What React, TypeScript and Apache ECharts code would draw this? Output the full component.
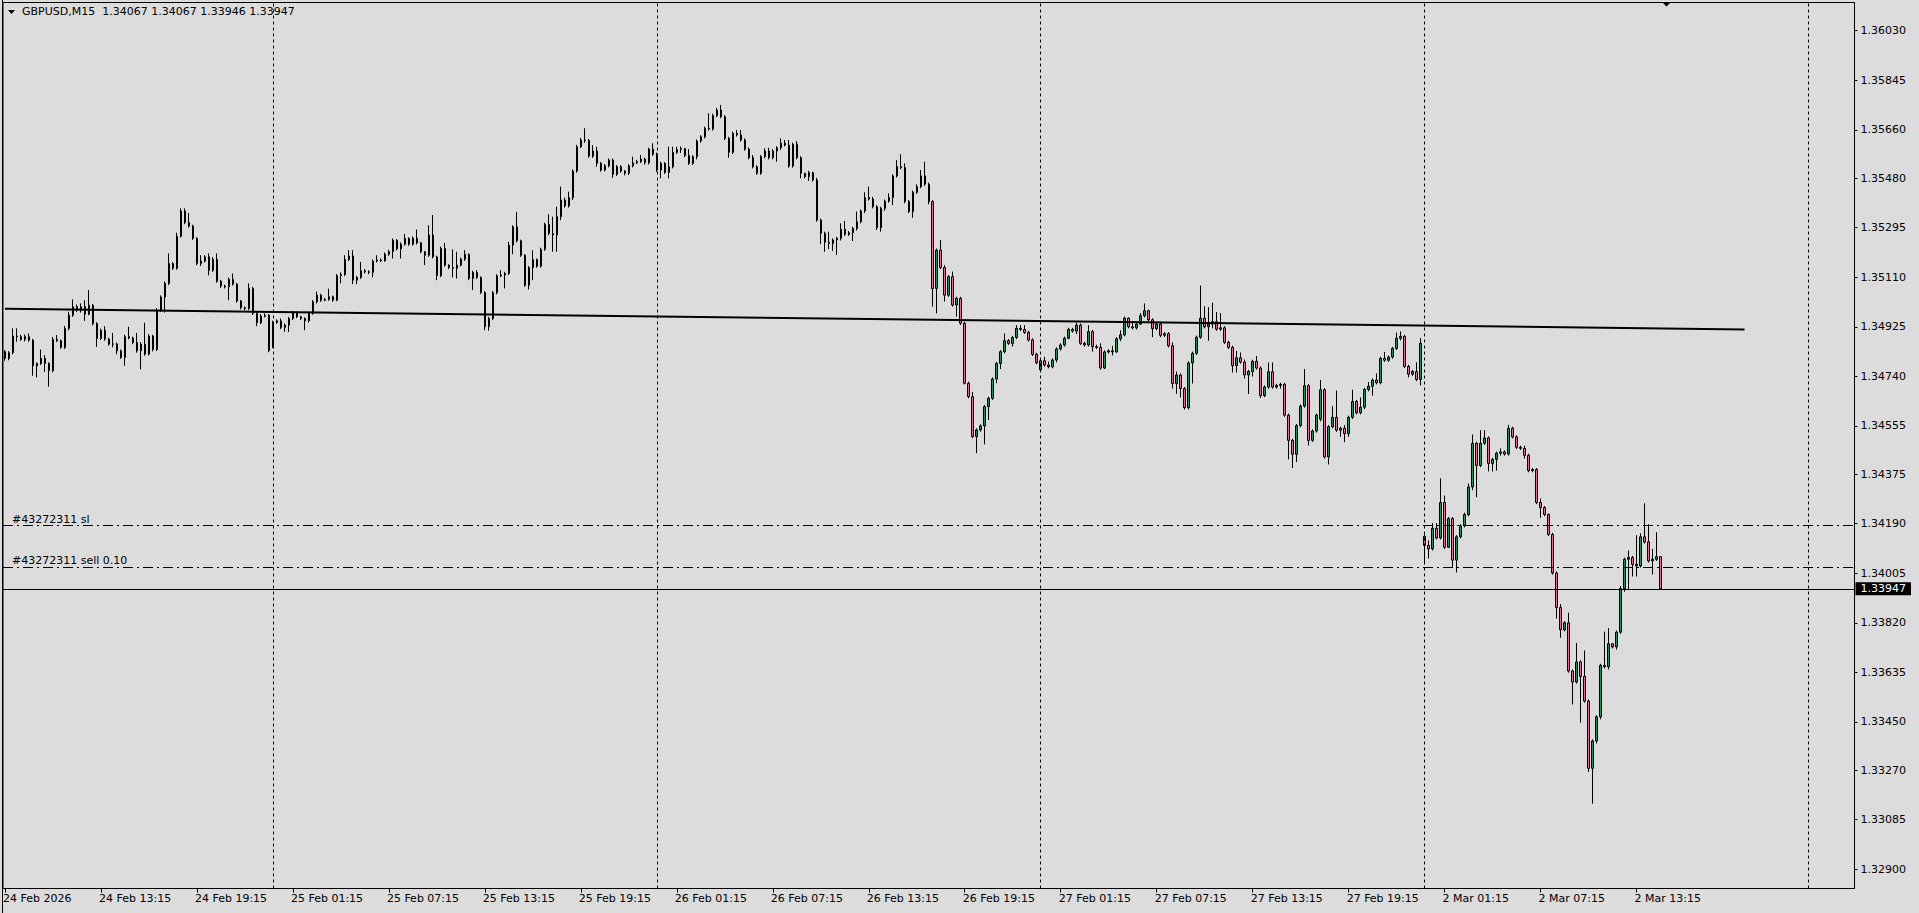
import React, { useEffect, useRef } from 'react';
import * as echarts from 'echarts';

// Candles as [open, close, low, high] in points: price = 1.3 + pts / 100000
const D24: number[][] = [
  [4832,4807,4798,4838],[4807,4828,4800,4834],[4828,4890,4822,4919],[4890,4888,4869,4919],[4888,4878,4872,4895],
  [4878,4888,4870,4896],[4888,4875,4869,4900],[4875,4779,4742,4880],[4779,4788,4736,4792],[4788,4807,4782,4840],
  [4807,4788,4757,4819],[4788,4761,4701,4792],[4761,4878,4755,4887],[4878,4873,4868,4894],[4873,4848,4843,4877],
  [4848,4919,4842,4928],[4919,4968,4912,4981],[4968,5000,4962,5027],[5000,4987,4980,5008],[4987,5000,4978,5012],
  [5000,4972,4947,5024],[4972,5005,4968,5062],[5005,4937,4930,5010],[4937,4881,4850,4942],[4881,4912,4876,4918],
  [4912,4879,4873,4927],[4879,4860,4855,4884],[4860,4861,4848,4902],[4861,4835,4822,4866],[4835,4810,4805,4840],
  [4810,4888,4779,4895],[4888,4883,4878,4925],[4883,4866,4860,4888],[4866,4835,4828,4902],[4835,4860,4766,4868],
  [4860,4823,4817,4940],[4823,4890,4818,4897],[4890,4840,4833,4895],[4840,4987,4835,4995],[4987,5036,4980,5042],
  [5036,5087,4978,5094],[5087,5161,5080,5199],[5161,5143,5137,5166],[5143,5263,5138,5276],[5263,5357,5258,5367],
  [5357,5314,5308,5367],[5314,5301,5295,5350],[5301,5255,5249,5306],[5255,5161,5155,5259],[5161,5170,5152,5192],
  [5170,5186,5165,5192],[5186,5136,5117,5199],[5136,5177,5130,5185],[5177,5095,5089,5199],[5095,5077,5070,5100],
  [5077,5074,5068,5082],[5074,5102,5024,5108],[5102,5084,5079,5124],[5084,5021,5015,5089],[5021,4996,4990,5025],
  [4996,4993,4986,5001],[4993,5068,4988,5087],[5068,4975,4969,5074],[4975,4940,4927,4980],[4940,4965,4935,4972],
  [4965,4968,4960,4975],[4968,4836,4830,4972],
];
const D25: number[][] = [
  [4850,4941,4845,4948],[4941,4947,4936,4953],[4947,4922,4916,4956],[4922,4931,4906,4937],[4931,4956,4906,4962],
  [4956,4978,4950,4984],[4978,4962,4957,4982],[4962,4956,4950,4966],[4956,4947,4912,4960],[4947,4975,4941,4981],
  [4975,5018,4970,5025],[5018,5043,5012,5056],[5043,5024,5018,5048],[5024,5027,5020,5033],[5027,5037,5022,5067],
  [5037,5024,5018,5041],[5024,5116,5020,5122],[5116,5120,5087,5128],[5120,5176,5114,5192],[5176,5189,5170,5211],
  [5189,5099,5084,5211],[5099,5109,5084,5115],[5109,5134,5103,5167],[5134,5130,5124,5140],[5130,5128,5121,5136],
  [5128,5170,5109,5176],[5170,5174,5165,5192],[5174,5171,5167,5180],[5171,5196,5168,5202],[5196,5205,5190,5212],
  [5205,5248,5180,5255],[5248,5216,5210,5252],[5216,5233,5180,5240],[5233,5255,5228,5271],[5255,5233,5227,5259],
  [5233,5255,5228,5262],[5255,5238,5232,5288],[5238,5205,5199,5242],[5205,5192,5155,5208],[5192,5267,5186,5304],
  [5267,5186,5180,5342],[5186,5116,5099,5190],[5116,5217,5110,5224],[5217,5155,5149,5238],[5155,5146,5140,5158],
  [5146,5143,5109,5214],[5143,5155,5105,5205],[5155,5177,5150,5183],[5177,5195,5171,5211],[5195,5105,5099,5199],
  [5105,5128,5062,5134],[5128,5109,5103,5136],[5109,5053,5047,5113],[5053,4925,4912,5058],[4925,4956,4910,4962],
  [4956,5052,4950,5058],[5052,5115,5046,5121],[5115,5118,5110,5136],[5118,5124,5068,5130],[5124,5230,5118,5242],
  [5230,5298,5196,5304],[5298,5246,5240,5354],[5246,5192,5186,5250],[5192,5080,5074,5196],[5080,5146,5064,5152],
  [5146,5176,5099,5211],[5176,5151,5145,5180],[5151,5214,5146,5220],[5214,5307,5208,5313],[5307,5273,5267,5345],
  [5273,5268,5205,5336],[5268,5336,5205,5373],[5336,5398,5323,5448],[5398,5376,5370,5407],[5376,5407,5370,5429],
  [5407,5506,5398,5512],[5506,5597,5500,5604],[5597,5622,5592,5630],[5622,5620,5612,5666],[5620,5562,5556,5626],
  [5562,5581,5555,5603],[5581,5535,5523,5597],[5535,5510,5504,5540],[5510,5526,5505,5532],[5526,5547,5520,5553],
  [5547,5494,5481,5553],[5494,5523,5488,5529],[5523,5506,5500,5528],[5506,5498,5490,5510],[5498,5526,5492,5532],
  [5526,5537,5520,5560],[5537,5541,5532,5548],[5541,5551,5536,5566],[5551,5537,5530,5556],[5537,5588,5531,5593],
  [5588,5569,5563,5610],
];
const D26: number[][] = [
  [5569,5510,5503,5575],[5510,5535,5479,5541],[5535,5501,5495,5540],[5501,5522,5479,5597],[5522,5576,5516,5597],
  [5576,5587,5570,5597],[5587,5590,5574,5598],[5590,5564,5558,5593],[5564,5535,5529,5588],[5535,5560,5529,5566],
  [5560,5618,5550,5624],[5618,5634,5612,5640],[5634,5666,5628,5672],[5666,5663,5657,5722],[5663,5713,5657,5720],
  [5713,5734,5707,5742],[5734,5709,5703,5753],[5709,5628,5622,5715],[5628,5576,5556,5634],[5576,5647,5570,5653],
  [5647,5641,5635,5659],[5641,5622,5616,5659],[5622,5588,5582,5628],[5588,5556,5550,5594],[5556,5522,5516,5566],
  [5522,5498,5492,5528],[5498,5560,5492,5566],[5560,5581,5554,5591],[5581,5556,5550,5593],[5556,5581,5550,5588],
  [5581,5593,5541,5599],[5593,5610,5585,5628],[5610,5603,5598,5622],[5603,5525,5519,5622],[5525,5606,5519,5612],
  [5606,5556,5550,5618],[5556,5498,5479,5562],[5498,5485,5479,5500],[5485,5500,5469,5507],[5500,5473,5467,5504],
  [5473,5323,5317,5481],[5323,5274,5233,5329],[5274,5240,5205,5280],[5240,5236,5215,5280],[5236,5249,5208,5255],
  [5249,5255,5193,5261],[5255,5289,5247,5311],[5289,5270,5264,5320],[5270,5276,5264,5282],[5276,5292,5245,5298],
  [5292,5317,5284,5355],[5317,5357,5311,5363],[5357,5407,5349,5427],[5407,5402,5396,5448],[5402,5373,5367,5410],
  [5373,5295,5286,5379],[5295,5367,5280,5373],[5367,5394,5358,5400],[5394,5407,5388,5423],[5407,5488,5379,5494],
  [5488,5523,5482,5547],[5523,5519,5513,5569],[5519,5392,5386,5535],[5392,5355,5349,5398],[5355,5427,5332,5433],
  [5427,5448,5421,5457],[5448,5488,5442,5510],[5488,5457,5451,5541],[5457,5392,5382,5463],[5392,5068,5000,5398],
  [5068,5211,4975,5217],[5211,5146,5140,5249],[5146,5043,5019,5155],[5043,5112,5037,5118],[5112,5006,5000,5131],
  [5006,5031,4963,5037],[5031,4938,4932,5037],[4938,4714,4710,4944],[4714,4664,4658,4720],[4664,4515,4509,4682],
  [4515,4540,4453,4546],[4540,4555,4533,4561],[4555,4627,4486,4633],[4627,4658,4577,4664],[4658,4730,4652,4736],
  [4730,4788,4714,4794],[4788,4832,4767,4838],[4832,4873,4826,4900],[4873,4863,4857,4879],[4863,4885,4851,4891],
  [4885,4919,4879,4931],[4919,4915,4909,4931],[4915,4904,4898,4931],[4904,4876,4870,4910],[4876,4822,4816,4882],
  [4822,4791,4785,4828],
];
const D27: number[][] = [
  [4764,4798,4758,4804],[4798,4782,4776,4813],[4782,4776,4770,4795],[4776,4801,4770,4807],[4801,4842,4792,4848],
  [4842,4857,4836,4863],[4857,4882,4851,4888],[4882,4915,4878,4921],[4915,4909,4903,4921],[4909,4931,4898,4940],
  [4931,4863,4857,4937],[4863,4857,4851,4869],[4857,4907,4851,4931],[4907,4851,4832,4913],[4851,4848,4842,4858],
  [4848,4771,4765,4863],[4771,4831,4767,4837],[4831,4835,4825,4841],[4835,4831,4818,4854],[4831,4880,4828,4886],
  [4880,4895,4871,4912],[4895,4957,4889,4963],[4957,4925,4919,4960],[4925,4921,4915,4947],[4921,4935,4915,4941],
  [4935,4966,4932,4976],[4966,4985,4960,5012],[4985,4951,4945,4989],[4951,4918,4886,4957],[4918,4935,4912,4944],
  [4935,4893,4886,4941],[4893,4899,4887,4905],[4899,4854,4848,4905],[4854,4713,4694,4867],[4713,4745,4674,4758],
  [4745,4694,4661,4751],[4694,4623,4616,4700],[4623,4790,4616,4796],[4790,4826,4713,4832],[4826,4886,4820,4892],
  [4886,4957,4880,5079],[4957,4925,4919,5002],[4925,4935,4873,4998],[4935,4944,4919,5015],[4944,4916,4910,4980],
  [4916,4921,4910,4976],[4921,4867,4861,4927],[4867,4848,4842,4873],[4848,4780,4754,4854],[4780,4809,4754,4835],
  [4809,4793,4787,4829],[4793,4745,4732,4803],[4745,4758,4674,4764],[4758,4796,4739,4802],[4796,4771,4765,4816],
  [4771,4668,4659,4777],[4668,4700,4662,4706],[4700,4757,4694,4792],[4757,4700,4694,4792],[4700,4706,4694,4712],
  [4706,4710,4694,4716],[4710,4595,4589,4716],[4595,4501,4430,4601],[4501,4449,4398,4507],[4449,4556,4420,4562],
  [4556,4629,4550,4635],[4629,4705,4623,4767],[4705,4501,4482,4711],[4501,4536,4495,4542],[4536,4595,4530,4601],
  [4580,4690,4572,4726],[4690,4439,4433,4696],[4439,4552,4411,4558],[4552,4587,4546,4629],[4587,4539,4533,4687],
  [4539,4546,4514,4552],[4546,4526,4494,4558],[4526,4587,4514,4593],[4587,4646,4581,4690],[4646,4604,4598,4652],
  [4604,4625,4598,4661],[4625,4691,4617,4697],[4691,4703,4684,4719],[4703,4726,4668,4732],[4726,4716,4710,4751],
  [4716,4807,4710,4813],[4807,4800,4794,4831],[4800,4812,4794,4818],[4812,4844,4806,4850],[4844,4882,4838,4903],
  [4882,4889,4874,4908],[4889,4777,4771,4895],[4777,4748,4736,4783],[4748,4758,4742,4764],[4758,4728,4722,4792],
  [4728,4863,4706,4883],
];
const D02: number[][] = [
  [4143,4109,4041,4149],[4109,4096,4060,4128],[4096,4173,4090,4192],[4173,4137,4131,4192],[4137,4269,4131,4359],
  [4269,4102,4096,4295],[4102,4209,4099,4215],[4209,4054,4029,4215],[4054,4141,4008,4147],[4141,4182,4135,4188],
  [4182,4224,4176,4231],[4224,4327,4218,4340],[4327,4490,4315,4523],[4490,4407,4289,4496],[4407,4490,4401,4539],
  [4490,4510,4484,4539],[4510,4415,4385,4516],[4415,4430,4385,4436],[4430,4453,4388,4459],[4453,4458,4444,4471],
  [4458,4450,4444,4464],[4450,4546,4444,4559],[4546,4514,4508,4552],[4514,4475,4469,4520],[4475,4471,4465,4481],
  [4471,4445,4433,4481],[4445,4388,4382,4451],[4388,4392,4382,4398],[4392,4269,4263,4398],[4269,4250,4212,4284],
  [4250,4224,4218,4256],[4224,4150,4144,4228],[4150,4006,4000,4156],[4006,3877,3836,4012],[3877,3794,3764,3890],
  [3794,3820,3788,3826],[3820,3640,3634,3858],[3640,3599,3515,3646],[3599,3674,3593,3745],[3674,3620,3447,3680],
  [3620,3528,3522,3717],[3528,3277,3263,3534],[3277,3379,3145,3385],[3379,3469,3370,3475],[3469,3661,3460,3667],
  [3661,3656,3650,3787],[3656,3742,3646,3800],[3742,3730,3724,3745],[3730,3785,3720,3791],[3785,3948,3779,3957],
  [3948,4057,3936,4063],[4057,4064,3944,4090],[4064,4038,3993,4070],[4038,4032,3993,4147],[4032,4141,4026,4154],
  [4141,4122,4116,4266],[4122,4051,4045,4188],[4051,4057,4000,4096],[4057,4067,4051,4158],[4067,3947,3946,4067],
];

// Trading days on the time axis: [label, first 15-min slot of the day, number of bars]
const DAY_SEGMENTS: [string, number, number][] = [
  ['24 Feb', 29, 67], ['25 Feb', 0, 96], ['26 Feb', 0, 96], ['27 Feb', 0, 96], ['2 Mar', 0, 96], ['3 Mar', 0, 12],
];
const X_TICK_LABELS = [
  '24 Feb 2026', '24 Feb 13:15', '24 Feb 19:15', '25 Feb 01:15', '25 Feb 07:15', '25 Feb 13:15',
  '25 Feb 19:15', '26 Feb 01:15', '26 Feb 07:15', '26 Feb 13:15', '26 Feb 19:15', '27 Feb 01:15',
  '27 Feb 07:15', '27 Feb 13:15', '27 Feb 19:15', '2 Mar 01:15', '2 Mar 07:15', '2 Mar 13:15',
];
const X_TICK_STEP = 24;
const Y_TICKS = [
  1.3603, 1.35845, 1.3566, 1.3548, 1.35295, 1.3511, 1.34925, 1.3474, 1.34555,
  1.34375, 1.3419, 1.34005, 1.3382, 1.33635, 1.3345, 1.3327, 1.33085, 1.329,
];
const Y_MIN = 1.328283;
const Y_MAX = 1.361353;
const DAY_SEPARATOR_BARS = [67, 163, 259, 355, 451];
const SL_PRICE = 1.34183;
const SELL_PRICE = 1.34029;
const BID_PRICE = 1.33947;
const TREND_LINE: [number, number][] = [[0, 1.34992], [435, 1.34915]];
const TITLE = 'GBPUSD,M15\u00a0 1.34067 1.34067 1.33946 1.33947';
const SL_LABEL = '#43272311 sl';
const SELL_LABEL = '#43272311 sell 0.10';

const toPrice = (pts: number) => +(1.3 + pts / 100000).toFixed(5);

const FONT = 'DejaVu Sans';
const BG = '#dcdcdc';

export default function App() {
  const ref = useRef<HTMLDivElement>(null);
  useEffect(() => {
    document.body.style.margin = '0';
    document.body.style.background = BG;
    if (!ref.current) return;
    const chart = echarts.init(ref.current, undefined, { renderer: 'svg' });

    const categories: string[] = [];
    DAY_SEGMENTS.forEach(([day, start, count]) => {
      for (let k = start; k < start + count; k++) {
        const h = Math.floor(k / 4);
        const m = (k % 4) * 15;
        categories.push(`${day} ${String(h).padStart(2, '0')}:${String(m).padStart(2, '0')}`);
      }
    });
    const candles = [...D24, ...D25, ...D26, ...D27, ...D02].map(([o, c, l, h]) => [
      toPrice(o), toPrice(c), toPrice(l), toPrice(h),
    ]);

    const showTick = (index: number) =>
      index % X_TICK_STEP === 0 && index / X_TICK_STEP < X_TICK_LABELS.length;

    const textStyle = { color: '#000', fontFamily: FONT, fontSize: 11 };
    const dashDot = [10, 4, 2, 4];
    // 463 bars at exactly 4px each
    const gridLeft = 2.5;
    const gridWidth = categories.length * 4;
    const gridRight = 1919 - gridLeft - gridWidth;

    chart.setOption({
      animation: false,
      backgroundColor: BG,
      grid: {
        left: gridLeft, top: 2.5, right: gridRight, bottom: 24.5,
        show: true, borderColor: '#000', borderWidth: 1, backgroundColor: 'transparent',
      },
      xAxis: {
        type: 'category',
        data: categories,
        boundaryGap: true,
        axisLine: { show: true, lineStyle: { color: '#000', width: 1 } },
        axisTick: {
          show: true, interval: showTick, alignWithLabel: true, length: 4,
          lineStyle: { color: '#000', width: 1 },
        },
        axisLabel: {
          ...textStyle,
          interval: showTick,
          align: 'left',
          margin: 4,
          padding: [0, 0, 0, -2],
          formatter: (_v: string, i: number) => X_TICK_LABELS[Math.round(i / X_TICK_STEP)] ?? '',
        },
        splitLine: { show: false },
      },
      yAxis: {
        type: 'value',
        position: 'right',
        min: Y_MIN,
        max: Y_MAX,
        axisLine: { show: true, lineStyle: { color: '#000', width: 1 } },
        axisTick: { show: true, length: 3, customValues: Y_TICKS, lineStyle: { color: '#000' } },
        axisLabel: {
          ...textStyle,
          customValues: Y_TICKS,
          margin: 6,
          formatter: (v: number) => v.toFixed(5),
        },
        splitLine: { show: false },
      },
      series: [
        {
          type: 'candlestick',
          data: candles,
          barWidth: 2,
          itemStyle: {
            color: '#2e8b57',
            color0: '#e0709a',
            borderColor: '#000',
            borderColor0: '#000',
            borderColorDoji: '#000',
            borderWidth: 1,
          },
          markLine: {
            silent: true,
            symbol: ['none', 'none'],
            precision: 5,
            animation: false,
            data: [
              ...DAY_SEPARATOR_BARS.map((i) => ({
                xAxis: categories[i],
                lineStyle: { color: '#000', width: 1, type: [3, 3] },
                label: { show: false },
              })),
              {
                yAxis: SL_PRICE,
                lineStyle: { color: '#000', width: 1, type: dashDot },
                label: {
                  show: true, position: 'insideStartTop', formatter: SL_LABEL, distance: [9, 1], ...textStyle,
                },
              },
              {
                yAxis: SELL_PRICE,
                lineStyle: { color: '#000', width: 1, type: dashDot },
                label: {
                  show: true, position: 'insideStartTop', formatter: SELL_LABEL, distance: [9, 1], ...textStyle,
                },
              },
              {
                yAxis: BID_PRICE,
                lineStyle: { color: '#000', width: 1, type: 'solid' },
                label: {
                  show: true, position: 'end', formatter: BID_PRICE.toFixed(5), distance: 1,
                  fontFamily: FONT, fontSize: 11, color: '#fff', backgroundColor: '#000',
                  padding: [1, 5, 0, 5], lineHeight: 12,
                },
              },
              [
                { coord: [categories[TREND_LINE[0][0]], TREND_LINE[0][1]] },
                {
                  coord: [categories[TREND_LINE[1][0]], TREND_LINE[1][1]],
                  lineStyle: { color: '#000', width: 2, type: 'solid' },
                  label: { show: false },
                },
              ],
            ],
          },
        },
      ],
      graphic: [
        {
          type: 'polygon',
          shape: { points: [[8, 10], [15, 10], [11.5, 14]] },
          style: { fill: '#000' },
        },
        {
          type: 'text',
          left: 22,
          top: 6,
          style: { text: TITLE, font: `11px "${FONT}"`, fill: '#000' },
        },
        {
          type: 'polygon',
          shape: { points: [[1662, 2], [1671, 2], [1666.5, 6.5]] },
          style: { fill: '#000' },
        },
        {
          type: 'line',
          shape: { x1: 2.5, y1: 0, x2: 2.5, y2: 913 },
          style: { stroke: '#000', lineWidth: 1 },
        },
      ],
    });
    return () => chart.dispose();
  }, []);
  return (
    <div
      ref={ref}
      style={{ position: 'fixed', left: 0, top: 0, width: 1919, height: 913, background: BG }}
    />
  );
}
